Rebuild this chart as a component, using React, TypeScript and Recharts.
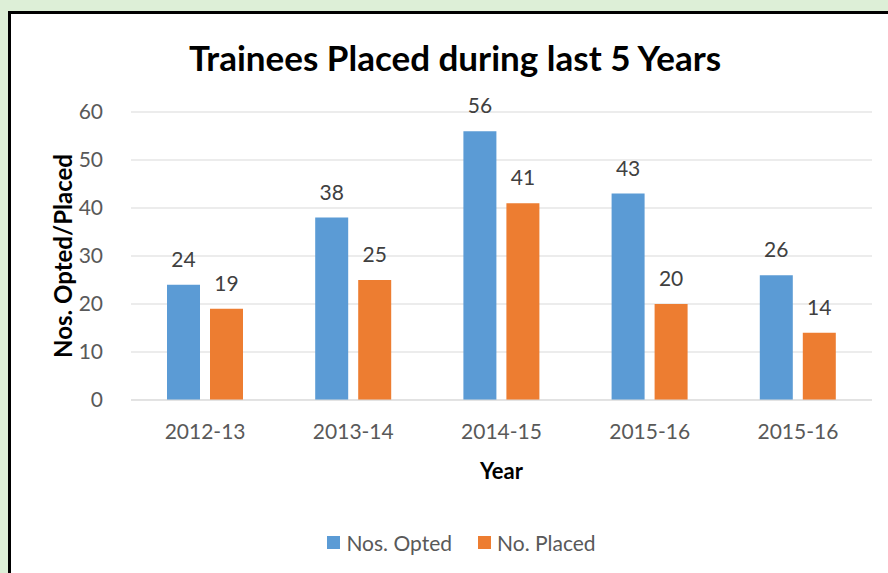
import { BarChart, Bar, XAxis, YAxis, CartesianGrid, Legend, LabelList } from 'recharts';

const years = ['2012-13', '2013-14', '2014-15', '2015-16', '2015-16'];
const opted = [24, 38, 56, 43, 26];
const placed = [19, 25, 41, 20, 14];
const yTicks = [0, 10, 20, 30, 40, 50, 60];
const seriesNames = ['Nos. Opted', 'No. Placed'];

const FONT = 'Lato, "Open Sans", sans-serif';
const BLUE = '#5b9bd5';
const ORANGE = '#ed7d31';

const data = years.map((year, i) => ({ year, opted: opted[i], placed: placed[i] }));

const LegendContent = ({ payload }: any) => {
  const items = [...(payload || [])].sort((a: any, b: any) => seriesNames.indexOf(a.value) - seriesNames.indexOf(b.value));
  return (
    <div style={{ display: 'flex', justifyContent: 'center', gap: 26, paddingTop: 30, fontFamily: FONT, fontSize: 21, color: '#595959' }}>
      {items.map((p: any) => (
        <span key={p.value} style={{ display: 'flex', alignItems: 'center' }}>
          <span style={{ width: 13, height: 13, background: p.color, marginRight: 6, display: 'inline-block' }} />
          {p.value}
        </span>
      ))}
    </div>
  );
};

export default function App() {
  return (
    <div style={{ position: 'fixed', left: 0, top: 0, width: 888, height: 573, background: '#ddefd7', overflow: 'hidden' }}>
      <div style={{ position: 'absolute', left: 8, top: 11, width: 1000, height: 700, border: '3px solid #000', background: '#fff' }} />
      <div style={{ position: 'absolute', left: 0, top: 36, width: 910, textAlign: 'center', fontFamily: FONT, fontWeight: 'bold', fontSize: 35, color: '#000' }}>
        Trainees Placed during last 5 Years
      </div>
      <div style={{ position: 'absolute', left: 0, top: 0 }}>
        <BarChart width={888} height={573} data={data} margin={{ top: 112, right: 16, left: 51, bottom: 23 }} barGap={10} barCategoryGap={36}>
          <CartesianGrid vertical={false} stroke="#d9d9d9" />
          <XAxis
            dataKey="year"
            axisLine={{ stroke: '#d9d9d9' }}
            tickLine={false}
            tickMargin={18}
            height={100}
            tick={{ fill: '#595959', fontSize: 21, fontFamily: FONT }}
            label={{ value: 'Year', position: 'insideTop', offset: 63, fill: '#000', fontSize: 22, fontWeight: 'bold', fontFamily: FONT }}
          />
          <YAxis
            width={80}
            domain={[0, 60]}
            ticks={yTicks}
            axisLine={false}
            tickLine={false}
            tickMargin={22}
            tick={{ fill: '#595959', fontSize: 21, fontFamily: FONT }}
            label={({ viewBox }: any) => {
              const cx = viewBox.x + 11;
              const cy = viewBox.y + viewBox.height / 2;
              return (
                <text x={cx} y={cy} transform={`rotate(-90, ${cx}, ${cy})`} textAnchor="middle" dominantBaseline="central" fill="#000" fontSize={24} fontWeight="bold" fontFamily={FONT}>
                  Nos. Opted/Placed
                </text>
              );
            }}
          />
          <Legend verticalAlign="bottom" height={50} content={<LegendContent />} />
          <Bar dataKey="opted" name={seriesNames[0]} fill={BLUE} isAnimationActive={false}>
            <LabelList dataKey="opted" position="top" offset={18} fill="#404040" fontSize={21} fontFamily={FONT} />
          </Bar>
          <Bar dataKey="placed" name={seriesNames[1]} fill={ORANGE} isAnimationActive={false}>
            <LabelList dataKey="placed" position="top" offset={18} fill="#404040" fontSize={21} fontFamily={FONT} />
          </Bar>
        </BarChart>
      </div>
    </div>
  );
}
